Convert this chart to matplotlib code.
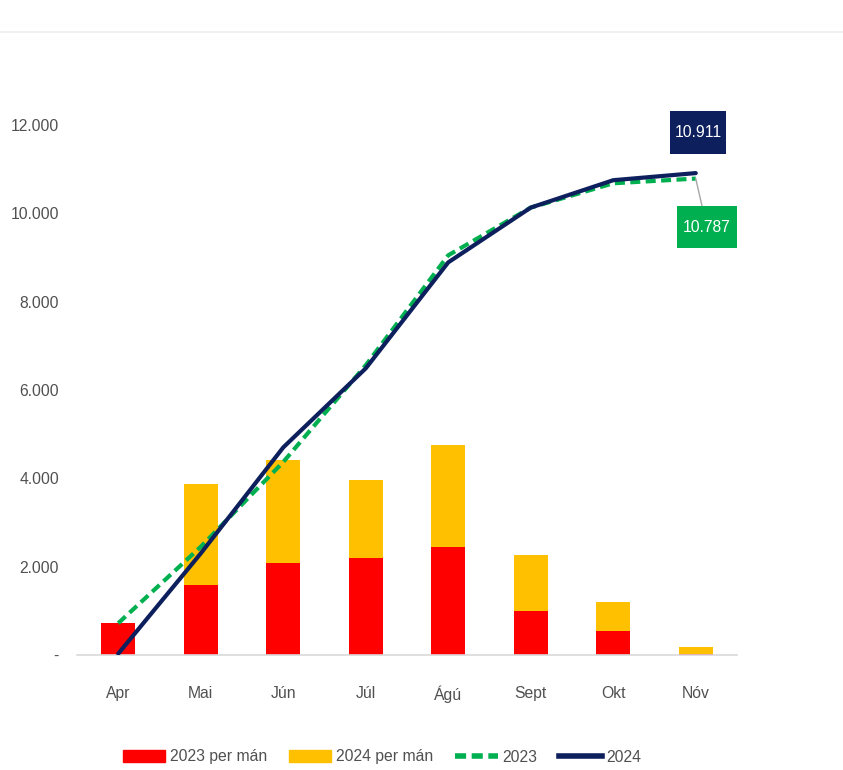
import matplotlib
matplotlib.use("Agg")
import matplotlib.pyplot as plt
from matplotlib.lines import Line2D
from matplotlib.path import Path
import numpy as np

plt.rcParams['font.family'] = ['Liberation Sans', 'DejaVu Sans']

months = ["Apr", "Mai", "Jún", "Júl", "Ágú", "Sept", "Okt", "Nóv"]
monthly_2023 = [720, 1590, 2080, 2190, 2440, 1000, 545, 30]
monthly_2024 = [0, 2280, 2330, 1770, 2310, 1260, 655, 150]
cum_2023 = [720, 2450, 4370, 6560, 9050, 10130, 10680, 10787]
cum_2024 = [30, 2300, 4700, 6490, 8890, 10130, 10750, 10911]
yticks = [0, 2000, 4000, 6000, 8000, 10000, 12000]
ytick_labels = ["-", "2.000", "4.000", "6.000", "8.000", "10.000", "12.000"]

RED = "#FF0000"
YELLOW = "#FFC000"
GREEN = "#00B050"
NAVY = "#0D1F5C"
GRAY = "#505050"
FS = 11.3


class PadBox:
    """Rectangular box with separate horizontal and vertical padding (fraction of font size)."""
    def __init__(self, padx, pady):
        self.padx = padx
        self.pady = pady

    def __call__(self, x0, y0, width, height, mutation_size):
        px = self.padx * mutation_size
        py = self.pady * mutation_size
        x0, y0 = x0 - px, y0 - py
        x1, y1 = x0 + width + 2 * px, y0 + height + 2 * py
        return Path([(x0, y0), (x1, y0), (x1, y1), (x0, y1), (x0, y0)], closed=True)


fig = plt.figure(figsize=(8.43, 7.70), dpi=100)
ax = fig.add_axes([77/843, 1-655/770, (737-77)/843, (655-125)/770])

x = np.arange(len(months))
ax.bar(x, monthly_2023, width=0.41, color=RED, label="2023 per mán", zorder=2)
ax.bar(x, monthly_2024, width=0.41, bottom=monthly_2023, color=YELLOW, label="2024 per mán", zorder=2)
ax.plot(x, cum_2023, color=GREEN, lw=3.0, linestyle=(0, (2.4, 1.3)), label="2023", zorder=3)
ax.plot(x, cum_2024, color=NAVY, lw=3.0, label="2024", zorder=4, solid_capstyle='round')

ax.set_xlim(-0.5, len(months) - 0.5)
ax.set_ylim(0, 12000)
ax.set_xticks(x)
ax.set_xticklabels(months)
ax.set_yticks(yticks)
ax.set_yticklabels(ytick_labels)
ax.tick_params(axis='x', length=0, pad=22, labelsize=FS, labelcolor=GRAY)
ax.tick_params(axis='y', length=0, pad=13, labelsize=FS, labelcolor=GRAY)
for s in ["top", "right", "left"]:
    ax.spines[s].set_visible(False)
ax.spines["bottom"].set_color("#D9D9D9")
ax.spines["bottom"].set_linewidth(1.2)

ax.annotate(f"{cum_2024[-1]:,}".replace(",", "."), xy=(x[-1], cum_2024[-1]),
            xytext=(1.5, 29), textcoords="offset points", ha="center", va="center",
            color="white", fontsize=FS, annotation_clip=False, zorder=6,
            bbox=dict(boxstyle=PadBox(0.3, 0.9), fc=NAVY, ec="none"))
ax.annotate(f"{cum_2023[-1]:,}".replace(",", "."), xy=(x[-1], cum_2023[-1]),
            xytext=(8, -35), textcoords="offset points", ha="center", va="center",
            color="white", fontsize=FS, annotation_clip=False, zorder=6,
            bbox=dict(boxstyle=PadBox(0.38, 0.85), fc=GREEN, ec="none"),
            arrowprops=dict(arrowstyle="-", color="#A6A6A6", lw=1, shrinkA=0, shrinkB=0))

handles = [
    plt.Rectangle((0, 0), 1, 1, color=RED),
    plt.Rectangle((0, 0), 1, 1, color=YELLOW),
    Line2D([0], [0], color=GREEN, lw=4, linestyle=(0, (2, 1))),
    Line2D([0], [0], color=NAVY, lw=4),
]
fig.legend(handles, ["2023 per mán", "2024 per mán", "2023", "2024"],
           loc="center", bbox_to_anchor=(382/843, 1-757/770), ncol=4, frameon=False,
           fontsize=FS, labelcolor=GRAY, handlelength=2.7, handleheight=0.85,
           columnspacing=1.4, handletextpad=0.3)

fig.add_artist(Line2D([0, 1], [1-32/770, 1-32/770], color="#EEEEEE", lw=1.2, transform=fig.transFigure))

fig.savefig("out.png", dpi=100)
